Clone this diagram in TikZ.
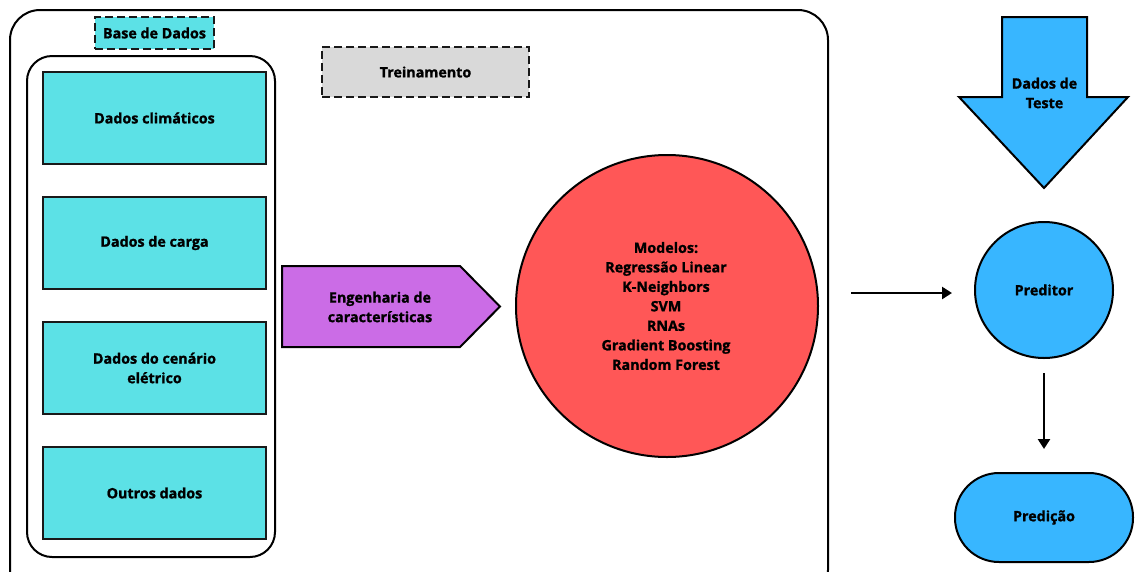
\documentclass[tikz,border=0pt]{standalone}
\usepackage{fontspec}
\setmainfont{Open Sans}[BoldFeatures={FakeBold=1.2}]
\usetikzlibrary{arrows.meta,shapes.geometric}

\definecolor{ciano}{HTML}{5CE1E6}
\definecolor{roxo}{HTML}{CB6CE6}
\definecolor{vermelho}{HTML}{FF5757}
\definecolor{azul}{HTML}{38B6FF}
\definecolor{cinza}{HTML}{D9D9D9}

\tikzset{
  dadobox/.style={draw=black!90, line width=2pt, fill=ciano, minimum width=223pt, minimum height=92pt, align=center},
  tracejado/.style={draw=black!90, line width=2pt, dash pattern=on 8pt off 4pt},
  seta/.style={-{Triangle[length=10pt,width=12pt]}, line width=2.8pt},
  rotulo/.style={font=\fontsize{14.3}{19.5}\selectfont\bfseries, align=center},
}

\begin{document}
\begin{tikzpicture}[x=1pt,y=-1pt,every node/.append style={rotulo}]
\useasboundingbox (0,0) rectangle (1136,571);

% moldura do treinamento
\draw[line width=2pt, rounded corners=30pt] (10,10) rectangle (828,600);
\draw[line width=2pt, rounded corners=25pt] (27,56) rectangle (275,557);

\node[tracejado, fill=ciano, minimum width=119pt, minimum height=32pt, inner sep=2pt] (base) at (154.5,33) {Base de Dados};
\node[tracejado, fill=cinza, minimum width=207pt, minimum height=50pt] (trein) at (425.5,72) {Treinamento};

% bases de dados
\node[dadobox] (clima) at (154.5,118) {Dados climáticos};
\node[dadobox] (carga) at (154.5,243) {Dados de carga};
\node[dadobox] (cenario) at (154.5,368) {Dados do cenário\\elétrico};
\node[dadobox] (outros) at (154.5,493) {Outros dados};

% engenharia de caracteristicas
\draw[line width=2pt, fill=roxo] (282,266) -- (460,266) -- (500,306.5) -- (460,347) -- (282,347) -- cycle;
\node (feat) at (380,307) {Engenharia de\\características};

% modelos
\node[circle, draw, line width=2pt, fill=vermelho, minimum size=302pt] (modelos) at (667,306) {};
\node (lista) at (666,306) {Modelos:\\Regressão Linear\\K-Neighbors\\SVM\\RNAs\\Gradient Boosting\\Random Forest};

% dados de teste
\draw[line width=2pt, fill=azul] (1002,17) -- (1087,17) -- (1087,97) -- (1128,97) -- (1044,188) -- (959,97) -- (1002,97) -- cycle;
\node (teste) at (1044.5,93) {Dados de\\Teste};

\node[ellipse, draw, line width=2pt, fill=azul, minimum width=138pt, minimum height=136pt] (preditor) at (1044,290) {Preditor};
\node[draw, line width=2pt, fill=azul, rounded corners=44pt, minimum width=178pt, minimum height=89pt] (predicao) at (1044,517.5) {Predição};

\coordinate (entrada) at (851,293);
\draw[seta, shorten >=22pt] (entrada) -- (entrada -| preditor.west);
\draw[seta, shorten <=14pt, shorten >=23pt] (preditor) -- (predicao);
\end{tikzpicture}
\end{document}
